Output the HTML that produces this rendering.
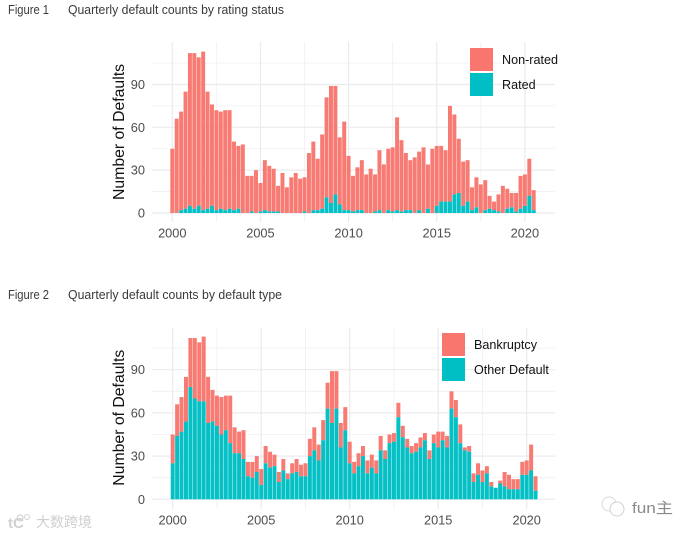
<!DOCTYPE html>
<html>
<head>
<meta charset="utf-8">
<title>Quarterly default counts</title>
<style>
html,body{margin:0;padding:0;background:#fff;width:696px;height:536px;overflow:hidden}
svg{display:block;font-family:"Liberation Sans","Noto Sans CJK SC",sans-serif}
</style>
</head>
<body>
<svg id="root" xmlns="http://www.w3.org/2000/svg" width="696" height="536" viewBox="0 0 696 536">
  <rect width="696" height="536" fill="#fff"/>
  <text x="8" y="14" font-size="13" fill="#3a3a3a" textLength="41" lengthAdjust="spacingAndGlyphs">Figure 1</text>
  <text x="68" y="14" font-size="13" fill="#3a3a3a" textLength="216" lengthAdjust="spacingAndGlyphs">Quarterly default counts by rating status</text>
  <text x="8" y="299" font-size="13" fill="#3a3a3a" textLength="41" lengthAdjust="spacingAndGlyphs">Figure 2</text>
  <text x="68" y="299" font-size="13" fill="#3a3a3a" textLength="214" lengthAdjust="spacingAndGlyphs">Quarterly default counts by default type</text>
  <g id="chart1"></g>
  <g id="chart2"></g>
  <g>
    <circle cx="20" cy="518" r="3" fill="none" stroke="#d4d4d4" stroke-width="1.2"/>
    <circle cx="27" cy="517" r="2.5" fill="none" stroke="#d4d4d4" stroke-width="1"/>
    <text x="8" y="528" font-size="15" font-weight="bold" fill="#d0d0d0">tC</text>
    <text x="36" y="527" font-size="14" fill="#cfcfcf" textLength="56" lengthAdjust="spacingAndGlyphs">大数跨境</text>
  </g>
  <g>
    <circle cx="609" cy="504" r="7" fill="none" stroke="#d8d8d8" stroke-width="1"/>
    <circle cx="617" cy="509" r="7" fill="#fff" stroke="#d0d0d0" stroke-width="1"/>
    <text x="632" y="513" font-size="15" fill="#8a8a8a" textLength="41" lengthAdjust="spacingAndGlyphs">fun主</text>
  </g>
</svg>
<script>
const quarters = [2000,2000.25,2000.5,2000.75,2001,2001.25,2001.5,2001.75,2002,2002.25,2002.5,2002.75,2003,2003.25,2003.5,2003.75,2004,2004.25,2004.5,2004.75,2005,2005.25,2005.5,2005.75,2006,2006.25,2006.5,2006.75,2007,2007.25,2007.5,2007.75,2008,2008.25,2008.5,2008.75,2009,2009.25,2009.5,2009.75,2010,2010.25,2010.5,2010.75,2011,2011.25,2011.5,2011.75,2012,2012.25,2012.5,2012.75,2013,2013.25,2013.5,2013.75,2014,2014.25,2014.5,2014.75,2015,2015.25,2015.5,2015.75,2016,2016.25,2016.5,2016.75,2017,2017.25,2017.5,2017.75,2018,2018.25,2018.5,2018.75,2019,2019.25,2019.5,2019.75,2020,2020.25,2020.5];
const nonRated = [45,66,69,82,107,109,104,111,82,71,70,68,70,69,48,44,48,26,25,30,20,35,32,30,18,28,18,25,28,24,24,42,48,36,52,70,82,76,47,62,38,25,30,35,27,31,26,42,34,43,45,65,50,40,35,39,41,46,31,45,42,39,36,67,56,38,31,29,16,21,20,21,9,6,12,19,14,10,13,23,22,26,14];
const rated = [0,0,2,3,5,3,5,2,3,5,2,3,2,3,2,3,0,0,1,0,1,2,1,1,1,0,0,0,0,0,1,0,2,2,3,11,7,13,6,2,2,1,2,2,0,0,1,2,0,2,1,2,1,2,2,0,2,0,3,0,5,8,8,8,13,14,5,8,2,4,0,2,3,2,1,0,3,4,1,3,5,12,2];
const bankruptcy = [20,22,24,31,34,42,41,45,32,22,21,26,24,33,18,15,20,10,11,11,11,12,11,8,7,8,4,7,9,8,9,12,16,11,14,18,36,26,17,16,15,8,9,7,9,9,9,10,6,6,6,10,8,6,5,6,7,5,6,6,11,6,8,12,12,13,2,4,6,8,8,5,3,0,2,10,10,7,7,9,10,18,10];
const otherDefault = [25,44,47,54,78,70,68,68,53,54,51,45,48,39,32,32,28,16,15,19,10,25,22,23,12,20,14,18,19,16,16,30,34,27,41,63,53,63,36,48,25,18,23,30,18,22,18,34,28,39,40,57,43,36,32,33,36,41,28,39,36,41,36,63,57,39,34,33,12,17,12,18,9,8,11,9,7,7,7,17,17,20,6];
const yMajorTicks = [0,30,60,90];
const yMinorTicks = [15,45,75,105];
const xMajorTicks = [2000,2005,2010,2015,2020];
const xMinorTicks = [2002.5,2007.5,2012.5,2017.5];
const legendOne = ["Non-rated","Rated"];
const legendTwo = ["Bankruptcy","Other Default"];

const NS = "http://www.w3.org/2000/svg";
const RED = "#F8766D", TEAL = "#00BFC4";

function node(parent, tag, attrs, text) {
  const el = document.createElementNS(NS, tag);
  for (const k in attrs) el.setAttribute(k, attrs[k]);
  if (text !== undefined) el.textContent = text;
  parent.appendChild(el);
  return el;
}

function drawChart(g, cfg) {
  const xScale = v => cfg.x0 + (v - 2000) * cfg.pxPerYear;
  const yScale = v => cfg.y0 - v * cfg.pxPerUnit;
  const barW = cfg.pxPerYear * 0.25 * 0.9;

  yMinorTicks.forEach(t => {
    const el = node(g, "line", {x1: 152, x2: 555, y1: yScale(t), y2: yScale(t), stroke: "#f0f0f2", "stroke-width": 0.8});
    
    
  });
  xMinorTicks.forEach(t => {
    const el = node(g, "line", {x1: xScale(t), x2: xScale(t), y1: cfg.top, y2: cfg.bottom, stroke: "#f0f0f2", "stroke-width": 0.8});
    
    
  });
  yMajorTicks.forEach(t => {
    const el = node(g, "line", {x1: 152, x2: 555, y1: yScale(t), y2: yScale(t), stroke: "#ebebef", "stroke-width": 1.2});
    
    
    const lab = node(g, "text", {x: 145, y: yScale(t) + 4.5, "text-anchor": "end", "font-size": 12.8, fill: "#4d4d4d"}, String(t));
    
    
  });
  xMajorTicks.forEach(t => {
    const el = node(g, "line", {x1: xScale(t), x2: xScale(t), y1: cfg.top, y2: cfg.bottom, stroke: "#ebebef", "stroke-width": 1.2});
    
    
    const lab = node(g, "text", {x: xScale(t), y: cfg.labelY, "text-anchor": "middle", "font-size": 12.8, fill: "#4d4d4d"}, String(t));
    
    
  });

  quarters.forEach((q, i) => {
    const lower = cfg.lower[i], upper = cfg.upper[i];
    const x = xScale(q) - barW / 2;
    const top = node(g, "rect", {x: x, width: barW, y: yScale(lower + upper), height: upper * cfg.pxPerUnit, fill: RED, "fill-opacity": 0.96});
    
    
    const bot = node(g, "rect", {x: x, width: barW, y: yScale(lower), height: lower * cfg.pxPerUnit, fill: TEAL, "fill-opacity": 0.98});
    
    
  });

  const title = node(g, "text", {transform: "translate(124," + cfg.titleY + ") rotate(-90)", "text-anchor": "middle", "font-size": 16, fill: "#111", textLength: 136, lengthAdjust: "spacingAndGlyphs"}, "Number of Defaults");
  
  

  cfg.legend.forEach((label, i) => {
    const y = cfg.legendY + i * 25;
    const sw = node(g, "rect", {x: cfg.legendX, y: y, width: 23, height: 23, fill: i === 0 ? RED : TEAL});
    
    
    const t = node(g, "text", {x: cfg.legendX + 32, y: y + 16, "font-size": 12.6, fill: "#111"}, label);
    
    
  });
}

drawChart(document.getElementById("chart1"), {
  x0: 172.3, pxPerYear: 17.63, y0: 213, pxPerUnit: 1.428,
  top: 42, bottom: 222, labelY: 237.3, titleY: 132,
  lower: rated, upper: nonRated, lowerName: "rated-bar", upperName: "non-rated-bar",
  legend: legendOne, legendX: 470, legendY: 48
});
drawChart(document.getElementById("chart2"), {
  x0: 172.7, pxPerYear: 17.7, y0: 499.3, pxPerUnit: 1.44,
  top: 328, bottom: 509, labelY: 524.3, titleY: 417.7,
  lower: otherDefault, upper: bankruptcy, lowerName: "other-default-bar", upperName: "bankruptcy-bar",
  legend: legendTwo, legendX: 442, legendY: 333
});
</script>
</body>
</html>
